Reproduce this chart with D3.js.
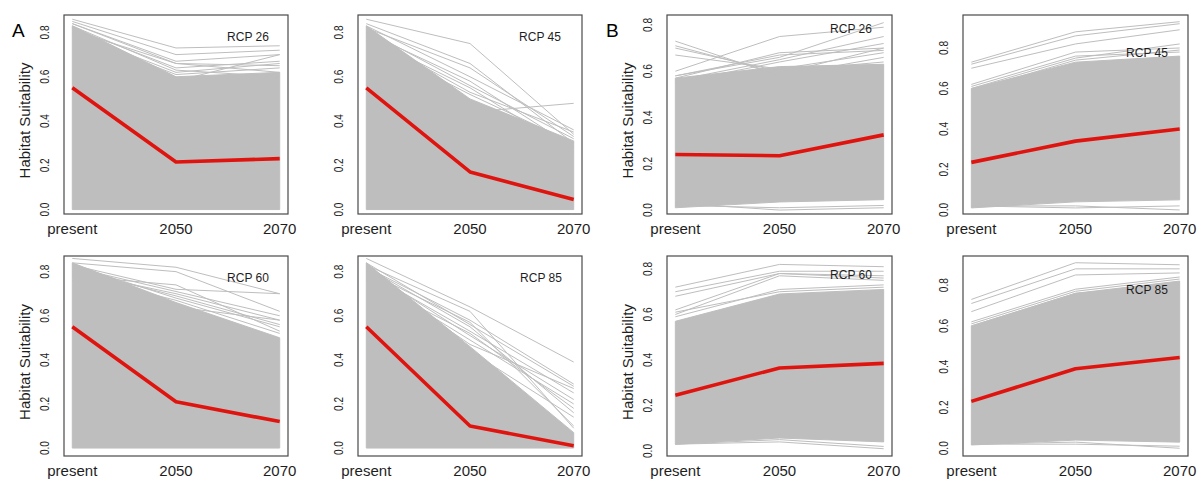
<!DOCTYPE html>
<html>
<head>
<meta charset="utf-8">
<script src="https://cdn.jsdelivr.net/npm/d3@7"></script>
<style>
  html, body { margin: 0; padding: 0; background: #fff; }
  svg { display: block; font-family: "Liberation Sans", Arial, Helvetica, sans-serif; }
</style>
</head>
<body>
<svg id="chart" width="1198" height="479"></svg>
<script>
// ---- time steps and axis ticks ----
const periods = ["present", "2050", "2070"];
const yTickValues = [0, 0.2, 0.4, 0.6, 0.8];
const groupLetters = ["A", "B"];
const scenarioNames = ["RCP 26", "RCP 45", "RCP 60", "RCP 85"];

// ---- group A: mean habitat suitability (red line) ----
const meanA26 = [0.55, 0.215, 0.23];
const meanA45 = [0.55, 0.17, 0.045];
const meanA60 = [0.55, 0.21, 0.12];
const meanA85 = [0.55, 0.10, 0.01];

// ---- group A: envelope of the dense bundle of species lines ----
const upperA26 = [0.83, 0.60, 0.62];
const upperA45 = [0.83, 0.50, 0.31];
const upperA60 = [0.84, 0.66, 0.50];
const upperA85 = [0.84, 0.46, 0.07];
const lowerA26 = [0.0, 0.0, 0.0];
const lowerA45 = [0.0, 0.0, 0.0];
const lowerA60 = [0.0, 0.0, 0.0];
const lowerA85 = [0.0, 0.0, 0.0];

// ---- group A: individual species lines lying outside the bundle ----
const runsA26 = [
  [0.86, 0.73, 0.74], [0.85, 0.70, 0.72], [0.84, 0.67, 0.70], [0.84, 0.66, 0.65],
  [0.82, 0.64, 0.67], [0.83, 0.63, 0.60], [0.81, 0.66, 0.62], [0.80, 0.62, 0.66],
  [0.79, 0.61, 0.64], [0.82, 0.58, 0.70]
];
const runsA45 = [
  [0.86, 0.75, 0.34], [0.84, 0.66, 0.30], [0.82, 0.64, 0.33], [0.83, 0.60, 0.36],
  [0.80, 0.58, 0.28], [0.81, 0.56, 0.32], [0.78, 0.55, 0.26], [0.80, 0.44, 0.48],
  [0.79, 0.53, 0.35], [0.76, 0.52, 0.30]
];
const runsA60 = [
  [0.86, 0.82, 0.70], [0.84, 0.80, 0.62], [0.83, 0.72, 0.70], [0.82, 0.71, 0.60],
  [0.80, 0.70, 0.58], [0.81, 0.69, 0.56], [0.78, 0.74, 0.53], [0.83, 0.68, 0.55],
  [0.79, 0.67, 0.52], [0.76, 0.64, 0.58]
];
const runsA85 = [
  [0.86, 0.64, 0.39], [0.83, 0.62, 0.09], [0.82, 0.58, 0.29], [0.84, 0.56, 0.28],
  [0.80, 0.53, 0.25], [0.81, 0.51, 0.22], [0.78, 0.49, 0.20], [0.82, 0.55, 0.16],
  [0.79, 0.47, 0.27], [0.76, 0.52, 0.18], [0.80, 0.57, 0.10], [0.77, 0.44, 0.14]
];

// ---- group B: mean habitat suitability (red line) ----
const meanB26 = [0.24, 0.235, 0.325];
const meanB45 = [0.235, 0.34, 0.40];
const meanB60 = [0.245, 0.365, 0.385];
const meanB85 = [0.23, 0.39, 0.445];

// ---- group B: envelope of the dense bundle ----
const upperB26 = [0.57, 0.62, 0.63];
const upperB45 = [0.60, 0.73, 0.76];
const upperB60 = [0.57, 0.69, 0.71];
const upperB85 = [0.60, 0.76, 0.82];
const lowerB26 = [0.01, 0.035, 0.045];
const lowerB45 = [0.01, 0.04, 0.05];
const lowerB60 = [0.03, 0.057, 0.04];
const lowerB85 = [0.016, 0.04, 0.03];

// ---- group B: individual species lines lying outside the bundle ----
const runsB26 = [
  [0.73, 0.58, 0.66], [0.71, 0.59, 0.70], [0.70, 0.60, 0.64], [0.67, 0.61, 0.68],
  [0.60, 0.75, 0.79], [0.58, 0.66, 0.81], [0.56, 0.65, 0.75], [0.55, 0.64, 0.72],
  [0.57, 0.68, 0.70], [0.58, 0.67, 0.69], [0.03, 0.00, 0.01], [0.02, 0.01, 0.02]
];
const runsB45 = [
  [0.73, 0.88, 0.93], [0.72, 0.86, 0.92], [0.70, 0.82, 0.89], [0.62, 0.78, 0.80],
  [0.61, 0.76, 0.78], [0.60, 0.75, 0.82], [0.59, 0.74, 0.79], [0.02, 0.02, 0.00],
  [0.02, 0.01, 0.02]
];
const runsB60 = [
  [0.72, 0.82, 0.81], [0.70, 0.79, 0.79], [0.68, 0.78, 0.77], [0.62, 0.78, 0.76],
  [0.60, 0.77, 0.75], [0.61, 0.70, 0.72], [0.59, 0.71, 0.73], [0.03, 0.05, 0.02],
  [0.03, 0.04, 0.01]
];
const runsB85 = [
  [0.73, 0.91, 0.90], [0.71, 0.88, 0.88], [0.67, 0.85, 0.86], [0.62, 0.78, 0.84],
  [0.61, 0.77, 0.83], [0.60, 0.76, 0.80], [0.02, 0.03, 0.00], [0.02, 0.02, 0.01]
];

// ---- assemble panels ----
const panels = [
  { scenario: scenarioNames[0], mean: meanA26, upper: upperA26, lower: lowerA26, runs: runsA26 },
  { scenario: scenarioNames[1], mean: meanA45, upper: upperA45, lower: lowerA45, runs: runsA45 },
  { scenario: scenarioNames[2], mean: meanA60, upper: upperA60, lower: lowerA60, runs: runsA60 },
  { scenario: scenarioNames[3], mean: meanA85, upper: upperA85, lower: lowerA85, runs: runsA85 },
  { scenario: scenarioNames[0], mean: meanB26, upper: upperB26, lower: lowerB26, runs: runsB26 },
  { scenario: scenarioNames[1], mean: meanB45, upper: upperB45, lower: lowerB45, runs: runsB45 },
  { scenario: scenarioNames[2], mean: meanB60, upper: upperB60, lower: lowerB60, runs: runsB60 },
  { scenario: scenarioNames[3], mean: meanB85, upper: upperB85, lower: lowerB85, runs: runsB85 }
];

// plot-box geometry, y-range and scenario-label offset (from top-right corner) per panel
const layout = [
  { x: 64,  y: 15,  w: 224, h: 199, yDom: [-0.020, 0.879], lab: [40, 26], title: true },
  { x: 358, y: 15,  w: 224, h: 199, yDom: [-0.020, 0.879], lab: [42, 26], title: false },
  { x: 64,  y: 256, w: 224, h: 200, yDom: [-0.036, 0.871], lab: [40, 26], title: true },
  { x: 358, y: 256, w: 224, h: 200, yDom: [-0.036, 0.871], lab: [41, 26], title: false },
  { x: 667, y: 15,  w: 225, h: 199, yDom: [-0.017, 0.843], lab: [41, 18], title: true },
  { x: 963, y: 15,  w: 225, h: 199, yDom: [-0.020, 0.963], lab: [41, 42], title: false },
  { x: 667, y: 256, w: 225, h: 200, yDom: [-0.022, 0.857], lab: [41, 23], title: true },
  { x: 963, y: 256, w: 225, h: 200, yDom: [-0.038, 0.943], lab: [41, 38], title: false }
];

const GRAY = "#bebebe";
const RED = "#e0140f";
const TEXT = "#1e1e1e";

const svg = d3.select("#chart");

panels.forEach((p, i) => {
  const L = layout[i];
  const x = d3.scaleLinear().domain([0.92, 3.08]).range([L.x, L.x + L.w]);
  const y = d3.scaleLinear().domain(L.yDom).range([L.y + L.h, L.y]);
  const g = svg.append("g");

  const clipId = "clip" + i;
  g.append("clipPath").attr("id", clipId)
    .append("rect").attr("x", L.x).attr("y", L.y).attr("width", L.w).attr("height", L.h);

  const plot = g.append("g").attr("clip-path", `url(#${clipId})`);

  // dense bundle of species trajectories
  const band = periods.map((_, k) => ({ k, lo: p.lower[k], hi: p.upper[k] }));
  plot.append("path")
    .datum(band)
    .attr("d", d3.area().x(d => x(d.k + 1)).y0(d => y(d.lo)).y1(d => y(d.hi)))
    .attr("fill", GRAY)
    .attr("stroke", GRAY)
    .attr("stroke-width", 1);

  // single species trajectories
  const line = d3.line().x((d, k) => x(k + 1)).y(d => y(d));
  plot.selectAll("path.run")
    .data(p.runs)
    .join("path")
    .attr("class", "run")
    .attr("d", line)
    .attr("fill", "none")
    .attr("stroke", GRAY)
    .attr("stroke-width", 1);

  // mean trajectory
  plot.append("path")
    .datum(p.mean)
    .attr("d", line)
    .attr("fill", "none")
    .attr("stroke", RED)
    .attr("stroke-width", 3.6)
    .attr("stroke-linejoin", "round");

  // plot frame
  g.append("rect")
    .attr("x", L.x).attr("y", L.y).attr("width", L.w).attr("height", L.h)
    .attr("fill", "none").attr("stroke", "#4a4a4a").attr("stroke-width", 1.2);

  // scenario label
  g.append("text")
    .attr("x", L.x + L.w - L.lab[0]).attr("y", L.y + L.lab[1])
    .attr("text-anchor", "middle")
    .attr("font-size", 12)
    .attr("fill", TEXT)
    .text(p.scenario);

  // y tick labels (rotated, R style)
  g.selectAll("text.ytick")
    .data(yTickValues)
    .join("text")
    .attr("class", "ytick")
    .attr("transform", d => `translate(${L.x - 15},${y(d)}) rotate(-90) scale(0.78,1)`)
    .attr("text-anchor", "middle")
    .attr("font-size", 13)
    .attr("fill", TEXT)
    .text(d3.format(".1f"));

  // x tick labels
  g.selectAll("text.xtick")
    .data(periods)
    .join("text")
    .attr("class", "xtick")
    .attr("x", (d, k) => x(k + 1))
    .attr("y", L.y + L.h + 20)
    .attr("text-anchor", "middle")
    .attr("font-size", 15)
    .attr("fill", TEXT)
    .text(d => d);

  // y-axis title on the left column of each group
  if (L.title) {
    g.append("text")
      .attr("transform", `translate(${L.x - 34},${L.y + L.h / 2 + 6}) rotate(-90)`)
      .attr("text-anchor", "middle")
      .attr("font-size", 15)
      .attr("fill", TEXT)
      .text("Habitat Suitability");
  }
});

// group letters
svg.selectAll("text.group")
  .data(groupLetters)
  .join("text")
  .attr("class", "group")
  .attr("x", (d, i) => [12, 606][i])
  .attr("y", 37)
  .attr("font-size", 19)
  .attr("fill", "#000")
  .text(d => d);
</script>
</body>
</html>
